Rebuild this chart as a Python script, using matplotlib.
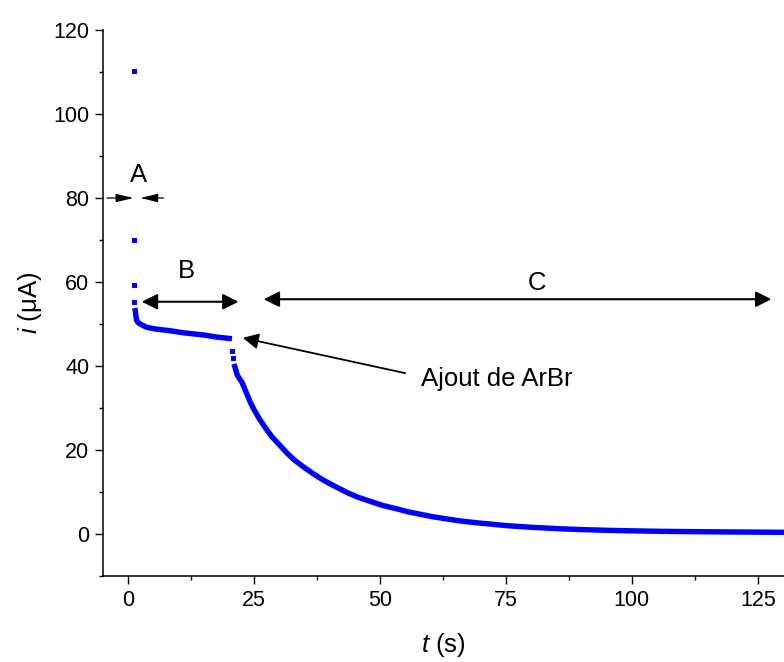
import matplotlib
matplotlib.use("Agg")
import matplotlib.pyplot as plt
from matplotlib.ticker import MultipleLocator

plt.rcParams["font.family"] = ["Liberation Sans", "DejaVu Sans"]
plt.rcParams["mathtext.fontset"] = "custom"
plt.rcParams["mathtext.rm"] = "Liberation Sans"
plt.rcParams["mathtext.it"] = "Liberation Sans:italic"

# initial spike (isolated points)
T_SPIKE = [1.1, 1.15, 1.2, 1.25]
I_SPIKE = [110.2, 70.0, 59.4, 55.2]

# region B plateau
T_B = [1.3, 1.4, 1.55, 1.7, 2.0, 2.4, 3.0, 3.7, 5.5, 8.3, 11.0, 14.9, 17.5, 20.6]
I_B = [53.8, 53.2, 51.8, 50.8, 50.3, 50.0, 49.6, 49.2, 48.8, 48.4, 47.9, 47.4, 46.9, 46.5]

# points right after ArBr addition
T_DROP = [20.7, 20.9]
I_DROP = [43.6, 41.8]

# region C decay
T_C = [21.0, 21.7, 22.6, 23.5, 24.2, 24.9, 26.0, 27.0, 28.5, 30.2, 31.5, 33.0,
       35.0, 36.8, 38.5, 40.0, 41.8, 43.4, 45.5, 48.0, 50.5, 53.3, 55.5, 58.0,
       60.5, 63.2, 66.0, 69.8, 72.5, 75.0, 80.0, 85.7, 90.0, 95.0, 100.0,
       105.6, 112.0, 118.0, 124.0, 130.5]
I_C = [40.5, 37.7, 36.1, 33.5, 31.5, 29.8, 27.5, 25.7, 23.2, 21.0, 19.3, 17.6,
       15.8, 14.3, 13.0, 12.0, 10.9, 9.9, 8.8, 7.8, 6.8, 6.0, 5.3, 4.7,
       4.1, 3.6, 3.1, 2.6, 2.3, 2.0, 1.6, 1.25, 1.05, 0.88, 0.75,
       0.64, 0.56, 0.5, 0.45, 0.4]

BLUE = "#0000ff"


def arrow(ax, x0, y0, x1, y1, style, lw=1.4):
    ax.annotate("", xy=(x1, y1), xytext=(x0, y0),
                arrowprops=dict(arrowstyle=style, color="black", lw=lw,
                                shrinkA=0, shrinkB=0, mutation_scale=10))


fig = plt.figure(figsize=(7.84, 6.62), dpi=100)
ax = fig.add_axes([103 / 784, 86 / 662, 681 / 784, 546 / 662])

ax.plot(T_SPIKE, I_SPIKE, ls="none", marker="s", ms=3.6, mew=0, color=BLUE)
ax.plot(T_B, I_B, color=BLUE, lw=3.9, solid_capstyle="butt", solid_joinstyle="round")
ax.plot(T_DROP, I_DROP, ls="none", marker="s", ms=3.6, mew=0, color=BLUE)
ax.plot(T_C, I_C, color=BLUE, lw=3.9, solid_capstyle="butt", solid_joinstyle="round")

ax.set_xlim(-5, 130.2)
ax.set_ylim(-10, 120)
ax.xaxis.set_major_locator(MultipleLocator(25))
ax.xaxis.set_minor_locator(MultipleLocator(12.5))
ax.yaxis.set_major_locator(MultipleLocator(20))
ax.yaxis.set_minor_locator(MultipleLocator(10))
ax.tick_params(which="major", direction="out", length=5.8, width=1.0, labelsize=15.5, pad=4)
ax.tick_params(which="minor", direction="out", length=3.0, width=1.0)
for s in ("top", "right"):
    ax.spines[s].set_visible(False)
for s in ("left", "bottom"):
    ax.spines[s].set_linewidth(1.1)

ax.set_xlabel("$t$ (s)", fontsize=18.5, labelpad=15)
ax.set_ylabel("$i$ (μA)", fontsize=18.5, labelpad=7)

# A: two inward arrows
head_a = "-|>,head_length=1.05,head_width=0.25"
arrow(ax, -4.2, 80, 1.05, 80, head_a, lw=0.9)
arrow(ax, 7.0, 80, 2.4, 80, head_a, lw=0.9)
ax.text(2.05, 85.5, "A", fontsize=18.5, ha="center", va="center")

# B and C double arrows
head_bc = "<|-|>,head_length=0.94,head_width=0.47"
arrow(ax, 2.7, 55.3, 21.9, 55.3, head_bc, lw=1.5)
ax.text(11.6, 62.7, "B", fontsize=18.5, ha="center", va="center")
arrow(ax, 26.9, 55.9, 127.7, 55.9, head_bc, lw=1.5)
ax.text(81.2, 59.7, "C", fontsize=18.5, ha="center", va="center")

# ArBr addition
arrow(ax, 55.0, 38.3, 22.75, 46.7, "-|>,head_length=0.94,head_width=0.47", lw=1.3)
ax.text(58.2, 36.9, "Ajout de ArBr", fontsize=18.5, ha="left", va="center")

fig.savefig("out.png", dpi=100, facecolor="white")
